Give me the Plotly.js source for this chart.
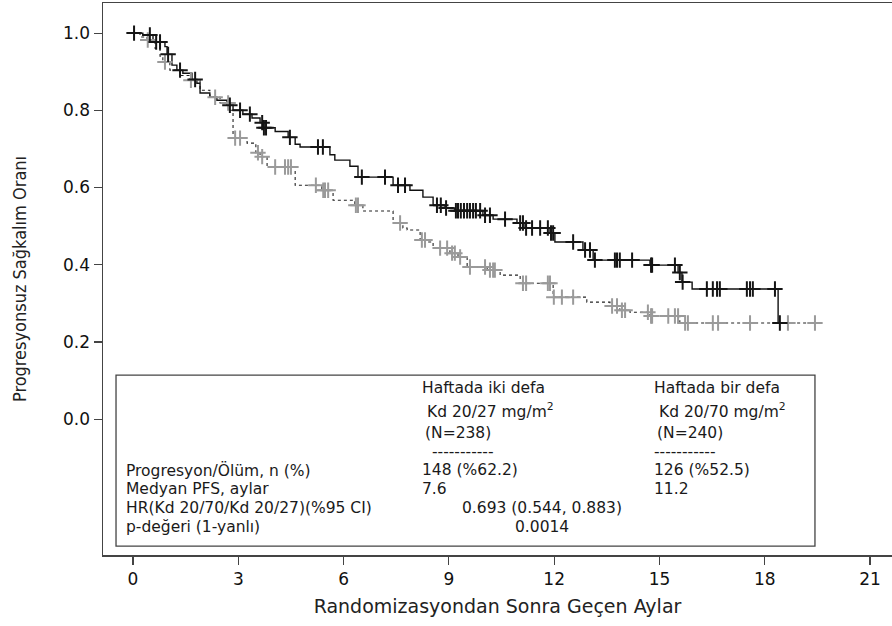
<!DOCTYPE html>
<html><head><meta charset="utf-8">
<script src="https://cdn.plot.ly/plotly-3.0.1.min.js"></script>
<style>html,body{margin:0;padding:0;background:#fff}</style>
</head><body><div id="chart" style="width:892px;height:626px"></div>
<script>
// Kd 20/70 mg/m2, once weekly (black, solid) — KM step times (months) and survival after step
const weeklyTimes = [0, 0.28, 0.57, 0.91, 0.97, 1.11, 1.25, 1.42, 1.68, 1.82, 1.91, 2.19, 2.39, 2.68, 2.85, 3.13, 3.39, 3.62, 3.70, 4.05, 4.42, 4.62, 4.76, 5.61, 5.75, 6.18, 6.41, 7.41, 7.89, 8.26, 8.55, 8.89, 9.17, 9.97, 10.26, 10.94, 11.17, 11.88, 12.02, 12.82, 13.11, 14.73, 15.53, 15.64, 15.93, 18.38, 18.52];
const weeklySurv  = [1.0, 0.995, 0.977, 0.965, 0.945, 0.917, 0.904, 0.896, 0.88, 0.87, 0.845, 0.834, 0.826, 0.813, 0.80, 0.79, 0.78, 0.768, 0.755, 0.745, 0.73, 0.712, 0.705, 0.685, 0.671, 0.655, 0.627, 0.606, 0.593, 0.575, 0.554, 0.547, 0.54, 0.528, 0.518, 0.508, 0.495, 0.482, 0.459, 0.438, 0.412, 0.399, 0.38, 0.355, 0.337, 0.249, 0.249];
const weeklyCensor = [0.03, 0.48, 0.66, 0.77, 1.0, 1.34, 1.77, 2.76, 3.05, 3.33, 3.68, 3.73, 3.79, 4.47, 5.27, 5.41, 6.52, 7.18, 7.55, 7.75, 8.66, 8.77, 8.92, 9.2, 9.26, 9.34, 9.43, 9.52, 9.60, 9.69, 9.77, 9.89, 10.03, 10.17, 10.60, 11.03, 11.11, 11.20, 11.37, 11.60, 11.82, 11.91, 11.97, 12.54, 12.88, 13.02, 13.16, 13.73, 13.79, 13.87, 14.22, 14.76, 14.79, 15.44, 15.58, 15.66, 16.35, 16.52, 16.64, 16.72, 17.49, 17.58, 17.66, 18.29, 18.43];

// Kd 20/27 mg/m2, twice weekly (grey marks, dotted line)
const twiceTimes = [0, 0.2, 0.4, 0.63, 0.77, 0.85, 1.05, 1.34, 1.62, 1.91, 2.19, 2.48, 2.76, 2.85, 3.25, 3.5, 3.62, 3.82, 4.62, 5.38, 5.70, 6.32, 6.55, 7.41, 7.69, 7.81, 8.18, 8.38, 8.55, 9.03, 9.26, 9.52, 10.09, 10.46, 11.03, 11.97, 12.93, 13.59, 13.87, 14.16, 14.73, 15.58, 19.49];
const twiceSurv  = [1.0, 0.99, 0.982, 0.96, 0.94, 0.925, 0.904, 0.89, 0.878, 0.852, 0.834, 0.819, 0.80, 0.728, 0.715, 0.69, 0.68, 0.653, 0.606, 0.593, 0.567, 0.554, 0.539, 0.508, 0.495, 0.49, 0.464, 0.459, 0.443, 0.43, 0.42, 0.394, 0.386, 0.373, 0.352, 0.316, 0.303, 0.293, 0.282, 0.277, 0.267, 0.249, 0.249];
const twiceCensor = [0.42, 0.91, 1.65, 2.34, 2.71, 2.91, 3.05, 3.56, 3.68, 4.05, 4.33, 4.42, 4.50, 5.21, 5.42, 5.47, 5.56, 6.35, 6.41, 7.61, 8.23, 8.32, 8.75, 8.95, 9.09, 9.17, 9.32, 9.60, 10.03, 10.17, 10.26, 10.31, 11.11, 11.20, 11.82, 11.88, 11.99, 12.22, 12.54, 13.65, 13.79, 13.93, 14.02, 14.67, 14.76, 14.79, 15.25, 15.44, 15.53, 15.73, 15.81, 16.52, 16.67, 17.58, 18.66, 19.43];

const xTicks = [0, 3, 6, 9, 12, 15, 18, 21];
const yTicks = [0.0, 0.2, 0.4, 0.6, 0.8, 1.0];

const xTitle = "Randomizasyondan Sonra Geçen Aylar";
const yTitle = "Progresyonsuz Sağkalım Oranı";

const col1Header = ["Haftada iki defa", "Kd 20/27 mg/m<sup>2</sup>", "(N=238)", "-----------"];
const col2Header = ["Haftada bir defa", "Kd 20/70 mg/m<sup>2</sup>", "(N=240)", "-----------"];
const rowLabels = ["Progresyon/Ölüm, n (%)", "Medyan PFS, aylar", "HR(Kd 20/70/Kd 20/27)(%95 CI)", "p-değeri (1-yanlı)"];
const col1Values = ["148 (%62.2)", "7.6"];
const col2Values = ["126 (%52.5)", "11.2"];
const hrValue = "0.693 (0.544, 0.883)";
const pValue = "0.0014";

function survAt(times, surv, t) {
  let v = surv[0];
  for (let i = 0; i < times.length; i++) { if (times[i] <= t) v = surv[i]; else break; }
  return v;
}

const FONT = "DejaVu Sans, Liberation Sans, Arial, sans-serif";
const GREY = "#9a9a9a";
const BLACK = "#151515";

const traces = [
  {x: twiceTimes, y: twiceSurv, mode: "lines", line: {shape: "hv", color: "#222", width: 1.1, dash: "dot"}, hoverinfo: "skip", showlegend: false},
  {x: weeklyTimes, y: weeklySurv, mode: "lines", line: {shape: "hv", color: "#111", width: 1.4}, hoverinfo: "skip", showlegend: false},
  {x: twiceCensor, y: twiceCensor.map(t => survAt(twiceTimes, twiceSurv, t)), mode: "markers",
   marker: {symbol: "cross-thin-open", size: 11, color: GREY, line: {color: GREY, width: 2}}, showlegend: false},
  {x: weeklyCensor, y: weeklyCensor.map(t => survAt(weeklyTimes, weeklySurv, t)), mode: "markers",
   marker: {symbol: "cross-thin-open", size: 11, color: BLACK, line: {color: BLACK, width: 2}}, showlegend: false}
];

const tf = {family: FONT, size: 15.5, color: "#1a1a1a"};
function ann(x, y, text) {
  return {x: x, y: y, xref: "x", yref: "y", text: text, showarrow: false, xanchor: "left", yanchor: "middle", font: tf};
}
const colX1 = [8.18, 8.32, 8.26, 8.46];
const colX2 = [14.79, 14.93, 14.87, 14.79];
const headY = [0.080, 0.023, -0.036, -0.085];
const rowY = [-0.132, -0.181, -0.231, -0.280];
const annotations = [];
col1Header.forEach((t, i) => annotations.push(ann(colX1[i], headY[i], t)));
col2Header.forEach((t, i) => annotations.push(ann(colX2[i], headY[i], t)));
rowLabels.forEach((t, i) => annotations.push(ann(-0.256, rowY[i], t)));
col1Values.forEach((t, i) => annotations.push(ann(8.18, rowY[i], t)));
col2Values.forEach((t, i) => annotations.push(ann(14.79, rowY[i], t)));
annotations.push(ann(9.32, rowY[2], hrValue));
annotations.push(ann(10.83, rowY[3], pValue));

const layout = {
  width: 892, height: 626,
  margin: {l: 103, r: 0, t: 3, b: 71},
  paper_bgcolor: "#fff", plot_bgcolor: "#fff",
  showlegend: false,
  xaxis: {
    range: [-0.855, 21.625], tickvals: xTicks, ticktext: xTicks.map(String),
    ticks: "outside", ticklen: 8, tickcolor: "#444", tickwidth: 1.2,
    showline: true, mirror: true, linecolor: "#444", linewidth: 1.5,
    showgrid: false, zeroline: false,
    tickfont: {family: FONT, size: 17, color: "#111"},
    title: {text: xTitle, font: {family: FONT, size: 19, color: "#222"}, standoff: 12}
  },
  yaxis: {
    range: [-0.352, 1.078], tickvals: yTicks, ticktext: yTicks.map(v => v.toFixed(1)),
    ticks: "outside", ticklen: 8, tickcolor: "#444", tickwidth: 1.2,
    showline: true, mirror: true, linecolor: "#444", linewidth: 1.5,
    showgrid: false, zeroline: false,
    tickfont: {family: FONT, size: 17, color: "#111"},
    title: {text: yTitle, font: {family: "DejaVu Sans Condensed, Liberation Sans Narrow, Liberation Sans, sans-serif", size: 18, color: "#222"}, standoff: 32}
  },
  shapes: [{type: "rect", xref: "x", yref: "y", x0: -0.484, x1: 19.43, y0: -0.329, y1: 0.114,
            line: {color: "#444", width: 1.3}, fillcolor: "rgba(0,0,0,0)", layer: "below"}],
  annotations: annotations
};

Plotly.newPlot("chart", traces, layout, {staticPlot: true, displayModeBar: false});
</script></body></html>
